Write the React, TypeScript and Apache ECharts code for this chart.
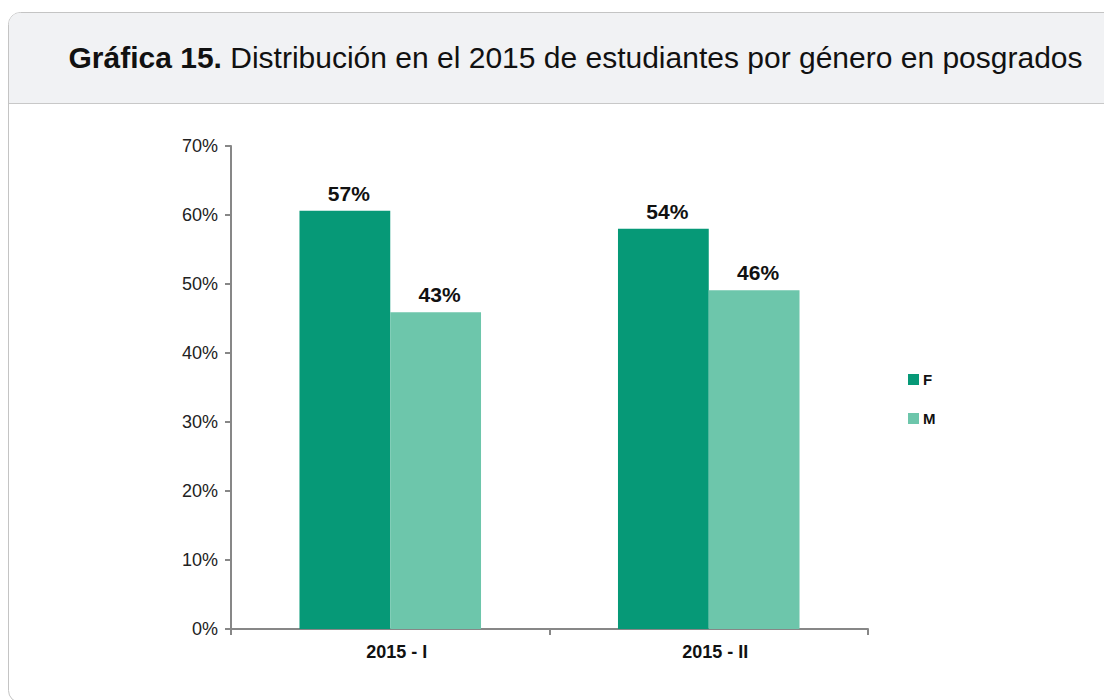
import React, { useEffect, useRef } from "react";
import * as echarts from "echarts";

const categories = ["2015 - I", "2015 - II"];
const seriesNames = ["F", "M"];
const barValuesF = [60.6, 58.0];
const barValuesM = [45.9, 49.1];
const labelsF = ["57%", "54%"];
const labelsM = ["43%", "46%"];
const titleBold = "Gráfica 15.";
const titleRest = " Distribución en el 2015 de estudiantes por género en posgrados";

const COLOR_F = "#069977";
const COLOR_M = "#6dc6ab";

export default function App() {
  const ref = useRef<HTMLDivElement>(null);
  useEffect(() => {
    const chart = echarts.init(ref.current!, null, { renderer: "svg" });
    const font = "'Liberation Sans', Arial, sans-serif";
    const dataLabel = {
      show: true,
      position: "top",
      distance: 7,
      offset: [4, 0],
      fontFamily: font,
      fontSize: 21,
      fontWeight: "bold",
      color: "#111",
    };
    chart.setOption({
      animation: false,
      textStyle: { fontFamily: font },
      graphic: [
        {
          type: "rect",
          shape: { x: 8.5, y: 12.5, width: 1130, height: 690, r: [12, 12, 12, 12] },
          style: { fill: "#ffffff", stroke: "#c4c4c4", lineWidth: 1 },
          z: -10,
          silent: true,
        },
        {
          type: "rect",
          shape: { x: 9, y: 13, width: 1120, height: 90, r: [11, 11, 0, 0] },
          style: { fill: "#f1f2f4" },
          z: -9,
          silent: true,
        },
        {
          type: "line",
          shape: { x1: 9, y1: 103.5, x2: 1120, y2: 103.5 },
          style: { stroke: "#c8c8c8", lineWidth: 1 },
          z: -8,
          silent: true,
        },
        {
          type: "text",
          x: 575.5,
          y: 57,
          style: {
            text: "{b|" + titleBold + "}{n|" + titleRest + "}",
            align: "center",
            verticalAlign: "middle",
            rich: {
              b: { fontFamily: font, fontSize: 30, fontWeight: "bold", fill: "#111" },
              n: { fontFamily: font, fontSize: 30, fill: "#111" },
            },
          },
        },
      ],
      legend: {
        orient: "vertical",
        left: 908,
        top: 372,
        padding: 0,
        itemWidth: 11,
        itemHeight: 11,
        itemGap: 24,
        icon: "rect",
        textStyle: {
          fontFamily: font,
          fontSize: 15,
          lineHeight: 11,
          fontWeight: "bold",
          color: "#111",
          padding: [0, 0, 0, -1],
        },
        data: seriesNames,
      },
      grid: { left: 231, top: 146, width: 637, height: 483, containLabel: false },
      xAxis: {
        type: "category",
        data: categories,
        axisLine: { lineStyle: { color: "#878787", width: 2 } },
        axisTick: { show: true, length: 6, lineStyle: { color: "#878787", width: 2 } },
        axisLabel: {
          fontFamily: font,
          fontSize: 18,
          fontWeight: "bold",
          color: "#111",
          margin: 14,
          padding: [0, 0, 0, 13],
        },
      },
      yAxis: {
        type: "value",
        min: 0,
        max: 70,
        interval: 10,
        axisLine: { show: true, lineStyle: { color: "#878787", width: 2 } },
        axisTick: { show: true, length: 6, lineStyle: { color: "#878787", width: 2 } },
        splitLine: { show: false },
        axisLabel: { fontFamily: font, fontSize: 18, color: "#222", margin: 13, formatter: "{value}%" },
      },
      series: [
        {
          name: seriesNames[0],
          type: "bar",
          data: barValuesF,
          barGap: "0%",
          barCategoryGap: "43%",
          itemStyle: { color: COLOR_F },
          label: { ...dataLabel, formatter: (p: any) => labelsF[p.dataIndex] },
        },
        {
          name: seriesNames[1],
          type: "bar",
          data: barValuesM,
          itemStyle: { color: COLOR_M },
          label: { ...dataLabel, formatter: (p: any) => labelsM[p.dataIndex] },
        },
      ],
    });
    return () => chart.dispose();
  }, []);
  return (
    <div
      ref={ref}
      style={{ position: "absolute", left: 0, top: 0, width: 1104, height: 700 }}
    />
  );
}
